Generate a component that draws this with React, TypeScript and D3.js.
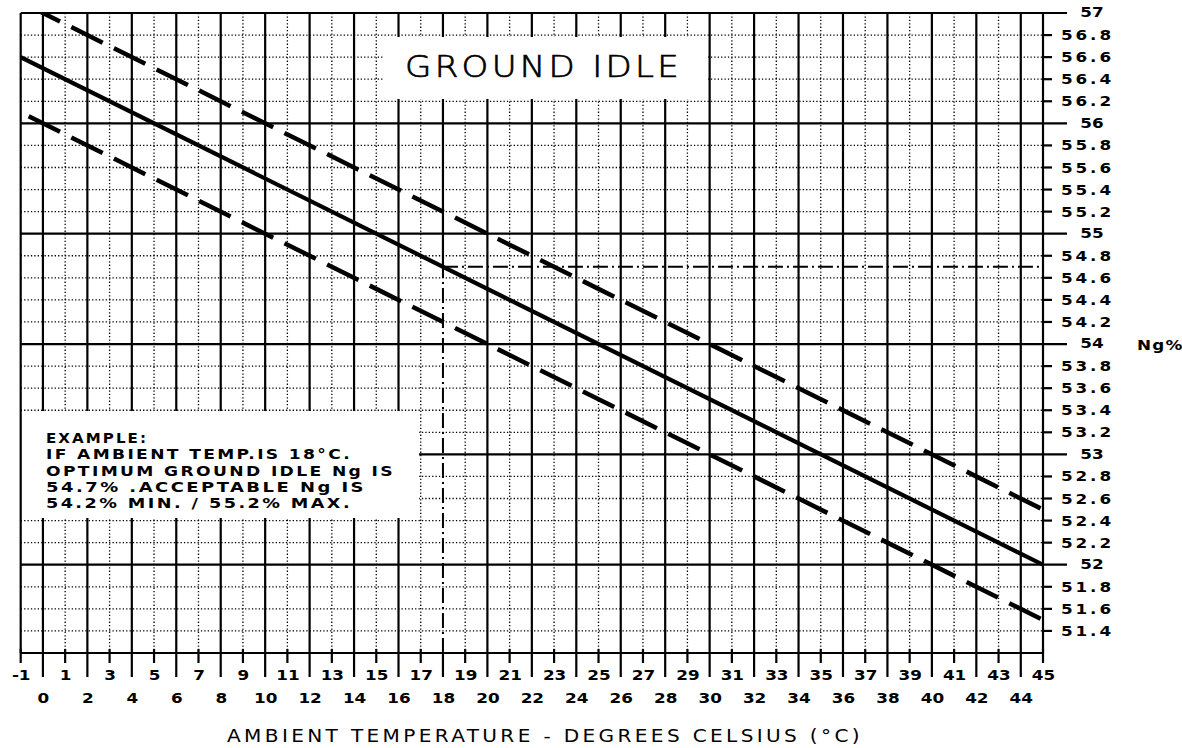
import React from "react";
import * as d3 from "d3";

// ---- data ----
const oddTemps = [-1, 1, 3, 5, 7, 9, 11, 13, 15, 17, 19, 21, 23, 25, 27, 29, 31, 33, 35, 37, 39, 41, 43, 45];
const evenTemps = [0, 2, 4, 6, 8, 10, 12, 14, 16, 18, 20, 22, 24, 26, 28, 30, 32, 34, 36, 38, 40, 42, 44];
const ngMajor = [52, 53, 54, 55, 56, 57];
const ngMinor = [51.4, 51.6, 51.8, 52.2, 52.4, 52.6, 52.8, 53.2, 53.4, 53.6, 53.8, 54.2, 54.4, 54.6, 54.8, 55.2, 55.4, 55.6, 55.8, 56.2, 56.4, 56.6, 56.8];
const lineTemps = [-1, 45];
const optimumNg = [56.6, 52.0];
const maxNg = [57.1, 52.5];
const minNg = [56.1, 51.5];
const exampleTemp = 18;
const exampleNg = 54.7;
const exampleLines = [
  "EXAMPLE:",
  "IF AMBIENT TEMP.IS 18°C.",
  "OPTIMUM GROUND IDLE Ng IS",
  "54.7% .ACCEPTABLE Ng IS",
  "54.2% MIN. / 55.2% MAX.",
];
const exampleWidths = [102, 306, 349, 320, 306];

const FONT = "'DejaVu Sans', Verdana, sans-serif";

export default function App() {
  const W = 1182, H = 748;
  const x = d3.scaleLinear().domain([-1, 45]).range([20.7, 1043]);
  const y = d3.scaleLinear().domain([51.2, 57]).range([653, 13]);
  const x0 = x(-1), x1 = x(45), yTop = y(57), yBot = y(51.2);

  const line = (vals: number[]) =>
    d3.line<number>().x((_, i) => x(lineTemps[i])).y((d) => y(d))(vals) || "";

  const dotted = { stroke: "#000", strokeWidth: 1.3, strokeDasharray: "1.3,2.1", fill: "none" };
  const solid = { stroke: "#000", strokeWidth: 2.2, fill: "none" };
  const dashStyle = {
    stroke: "#000", strokeWidth: 4.5, fill: "none",
    strokeDasharray: "35,12.6", strokeDashoffset: -8.9,
  };
  const dashDot = { stroke: "#000", strokeWidth: 2, fill: "none", strokeDasharray: "15,4,2,4" };
  const rightLabel: React.CSSProperties = { fontFamily: FONT, fontWeight: "bold", fontSize: 14, letterSpacing: 2.4 };
  const bottomLabel: React.CSSProperties = { fontFamily: FONT, fontWeight: "bold", fontSize: 14, letterSpacing: 0 };
  const SX = 1.2;

  return (
    <svg width={W} height={H} style={{ position: "absolute", left: 0, top: 0, background: "#fff" }}>
      <defs>
        <clipPath id="plot">
          <rect x={x0} y={yTop} width={x1 - x0} height={yBot - yTop} />
        </clipPath>
      </defs>
      <rect x={0} y={0} width={W} height={H} fill="#fff" />
      {/* minor grid */}
      {ngMinor.map((v) => (
        <g key={"hm" + v}>
          <line x1={x0} x2={x1} y1={y(v)} y2={y(v)} {...dotted} />
          <line x1={x1} x2={x1 + 9} y1={y(v)} y2={y(v)} {...solid} />
        </g>
      ))}
      {oddTemps.slice(1, -1).map((t) => (
        <line key={"vm" + t} x1={x(t)} x2={x(t)} y1={yTop} y2={yBot} {...dotted} />
      ))}
      {/* major grid */}
      {ngMajor.map((v) => (
        <line key={"hM" + v} x1={x0} x2={x1 + 24} y1={y(v)} y2={y(v)} {...solid} />
      ))}
      {evenTemps.map((t) => (
        <g key={"vM" + t}>
          <line x1={x(t)} x2={x(t)} y1={yTop} y2={t === exampleTemp ? y(exampleNg) : yBot} {...solid} />
          <line x1={x(t)} x2={x(t)} y1={yBot} y2={yBot + 24} {...solid} />
        </g>
      ))}
      {oddTemps.map((t) => (
        <line key={"to" + t} x1={x(t)} x2={x(t)} y1={yBot - 4} y2={yBot + 10} {...solid} />
      ))}
      {/* white boxes */}
      <rect x={383} y={37} width={325} height={62} fill="#fff" />
      <rect x={x0} y={411} width={419 - x0} height={107} fill="#fff" />
      {/* border */}
      <line x1={x0} x2={x0} y1={yTop} y2={yBot} {...solid} />
      <line x1={x1} x2={x1} y1={yTop} y2={yBot} {...solid} />
      <line x1={x0} x2={x1} y1={yBot} y2={yBot} {...solid} />

      {/* data lines */}
      <g clipPath="url(#plot)">
        <path d={line(optimumNg)} stroke="#000" strokeWidth={4.2} fill="none" />
        <path d={line(maxNg)} {...dashStyle} />
        <path d={line(minNg)} {...dashStyle} />
      </g>
      {/* example dash-dot */}
      <line x1={x(exampleTemp)} x2={x(exampleTemp)} y1={yBot} y2={y(exampleNg)} {...dashDot} />
      <line x1={x(exampleTemp)} x2={x1} y1={y(exampleNg)} y2={y(exampleNg)} {...dashDot} />

      {/* right labels */}
      {ngMinor.map((v) => (
        <text key={"lm" + v} transform={`translate(1061,${y(v)}) scale(${SX},1)`} dy="0.36em" style={rightLabel}>{v.toFixed(1)}</text>
      ))}
      {ngMajor.map((v) => (
        <text key={"lM" + v} transform={`translate(1092,${y(v)}) scale(${SX},1)`} dy="0.3em" textAnchor="middle" style={{ ...rightLabel, letterSpacing: 0 }}>{String(v)}</text>
      ))}
      <text transform={`translate(1137,${y(54)}) scale(${SX},1)`} dy="0.4em" style={{ ...rightLabel, letterSpacing: 1 }}>Ng%</text>

      {/* bottom labels */}
      {oddTemps.map((t) => (
        <text key={"bo" + t} transform={`translate(${x(t) + 0.5},680) scale(${SX},1)`} textAnchor="middle" style={bottomLabel}>{String(t)}</text>
      ))}
      {evenTemps.map((t) => (
        <text key={"be" + t} transform={`translate(${x(t) + 0.5},703) scale(${SX},1)`} textAnchor="middle" style={bottomLabel}>{String(t)}</text>
      ))}
      <text x={227} y={742} textLength={636} lengthAdjust="spacingAndGlyphs" style={{ fontFamily: FONT, fontSize: 18, letterSpacing: 3 }}>
        AMBIENT TEMPERATURE - DEGREES CELSIUS (°C)
      </text>

      {/* title */}
      <text x={405} y={77} textLength={277} lengthAdjust="spacingAndGlyphs" stroke="#000" strokeWidth={0.7}
        style={{ fontFamily: FONT, fontSize: 31, fontWeight: 200, letterSpacing: 3 }}>
        GROUND IDLE
      </text>

      {/* example */}
      {exampleLines.map((s, i) => (
        <text key={"ex" + i} x={46} y={443 + i * 16.3} textLength={exampleWidths[i]} lengthAdjust="spacingAndGlyphs"
          style={{ fontFamily: FONT, fontWeight: "bold", fontSize: 14.5, letterSpacing: 2 }}>{s}</text>
      ))}
    </svg>
  );
}
